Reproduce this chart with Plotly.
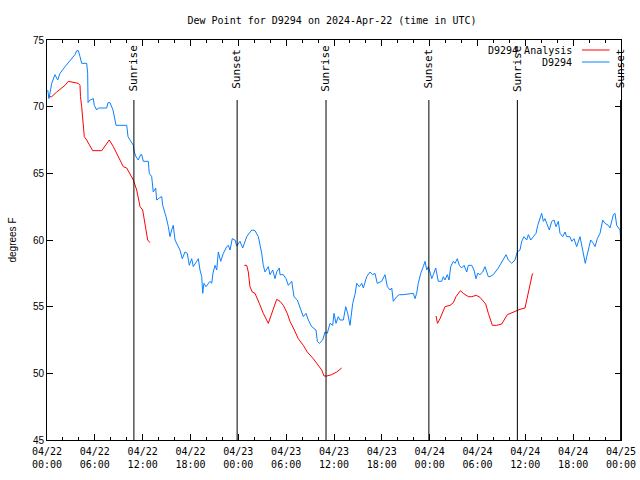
import pandas as pd
import plotly.graph_objects as go

BASE = pd.Timestamp("2024-04-22 00:00")

# Observations (hours since 04/22 00:00 UTC, degrees F)
obs_hours = [0.09, 0.25, 0.59, 1.0, 1.34, 1.63, 2.26, 2.89, 3.51, 3.73, 3.93, 4.14, 4.35, 4.98, 5.1, 5.15,
             5.39, 5.81, 5.93, 6.23, 6.44, 7.49, 7.65, 7.9, 8.28, 8.66, 10.0, 10.16, 10.41, 10.62, 10.83,
             10.95, 11.16, 11.45, 11.75, 11.88, 12.08, 12.71, 12.83, 13.13, 13.33, 13.63, 13.76, 14.09,
             14.39, 14.51, 14.71, 14.93, 15.22, 15.43, 15.64, 15.84, 16.06, 16.34, 16.68, 16.97, 17.31,
             17.6, 17.85, 18.15, 18.35, 18.78, 18.98, 19.19, 19.41, 19.53, 19.69, 19.94, 20.45, 20.66,
             20.82, 21.07, 21.29, 21.49, 21.79, 22.12, 22.54, 22.74, 22.96, 23.24, 23.58, 23.8, 24.21,
             24.55, 25.05, 25.68, 26.09, 26.51, 26.93, 27.13, 27.35, 27.76, 27.97, 28.31, 28.6, 28.81,
             29.14, 29.23, 29.64, 29.98, 30.27, 30.7, 30.98, 31.4, 31.74, 32.15, 32.49, 32.78, 33.2,
             33.74, 33.91, 34.16, 34.58, 34.87, 35.16, 35.5, 35.84, 36.0, 36.25, 36.54, 36.75, 37.17,
             37.47, 37.72, 38.01, 38.35, 38.63, 38.85, 39.17, 39.48, 39.68, 40.1, 40.52, 40.86, 41.14,
             41.43, 41.98, 42.4, 42.69, 43.03, 43.24, 43.44, 43.87, 44.19, 44.69, 45.53, 45.95, 46.16,
             46.37, 46.57, 46.88, 47.2, 47.42, 47.63, 47.83, 48.04, 48.26, 48.46, 48.76, 49.08, 49.51,
             49.71, 49.92, 50.21, 50.43, 50.64, 50.97, 51.18, 51.47, 51.72, 52.02, 52.31, 52.65, 52.85,
             53.27, 53.56, 53.81, 54.03, 54.31, 54.65, 54.94, 55.16, 55.36, 55.57, 55.98, 56.61, 57.24,
             57.58, 57.87, 58.29, 58.7, 58.99, 59.33, 59.55, 59.83, 60.17, 60.38, 60.68, 61.0, 61.34,
             61.55, 61.84, 62.05, 62.26, 62.47, 62.68, 63.01, 63.31, 63.6, 63.85, 64.14, 64.35, 64.69,
             64.98, 65.19, 65.6, 65.82, 66.11, 66.44, 66.86, 67.07, 67.36, 67.52, 67.7, 67.9, 68.2,
             68.53, 68.74, 69.03, 69.37, 69.71, 69.99, 70.41, 70.62, 71.04, 71.25, 71.46, 71.88, 71.96]
obs_values = [71.25, 70.6, 71.75, 72.4, 72.0, 72.5, 73.0, 73.5, 73.9, 74.2, 74.2, 73.75, 73.25, 73.25, 72.5, 70.3,
              70.5, 70.6, 70.1, 69.75, 69.9, 69.9, 70.3, 70.3, 69.75, 68.6, 68.6, 67.75, 67.5, 67.25, 67.1,
              66.6, 66.25, 66.0, 66.4, 66.4, 65.9, 65.9, 65.0, 64.75, 63.6, 63.9, 63.0, 63.15,
              63.25, 62.6, 62.25, 61.75, 61.0, 60.25, 60.75, 61.1, 60.0, 59.6, 59.25, 58.6, 59.1,
              59.0, 58.1, 58.6, 58.0, 58.4, 58.6, 57.75, 57.25, 56.0, 56.75, 56.5, 56.9, 56.75,
              57.5, 58.1, 57.75, 59.1, 58.4, 59.0, 59.5, 59.6, 59.25, 60.1, 60.0, 59.55, 59.9,
              59.4, 60.25, 60.75, 60.7, 60.25, 59.0, 58.1, 57.6, 58.0, 57.4, 57.75, 57.1, 57.6,
              57.9, 57.4, 57.4, 57.1, 56.6, 56.9, 55.75, 55.5, 55.0, 54.25, 54.5, 54.0, 53.5,
              53.25, 52.4, 52.25, 52.5, 53.1, 53.0, 53.75, 53.6, 54.5, 53.75, 54.25, 54.0, 54.0,
              55.0, 54.5, 53.6, 55.25, 55.9, 56.75, 56.5, 56.75, 56.4, 57.25, 57.6, 57.4, 57.5,
              56.75, 56.9, 57.4, 56.5, 56.25, 56.4, 55.4, 55.75, 55.9, 55.9, 56.0, 56.0, 55.6,
              56.0, 56.75, 57.5, 58.0, 58.4, 57.75, 58.0, 57.6, 57.1, 57.4, 57.9, 56.9, 56.9,
              57.25, 57.0, 57.4, 57.0, 58.0, 58.4, 58.25, 58.6, 58.1, 57.9, 58.1, 57.6, 58.1,
              58.1, 57.75, 57.1, 57.5, 57.4, 57.6, 58.0, 57.6, 57.25, 57.25, 57.4, 57.9, 58.5,
              58.9, 58.5, 58.25, 58.5, 59.1, 59.25, 59.9, 60.25, 60.0, 60.4, 60.0, 60.25, 60.5,
              61.1, 61.6, 62.0, 61.4, 61.6, 61.25, 60.75, 61.4, 61.5, 61.0, 61.4, 60.5, 60.25,
              60.6, 60.25, 60.25, 59.9, 60.1, 59.5, 60.25, 59.6, 58.75, 58.25, 58.75, 59.25, 60.0,
              59.75, 59.5, 60.1, 60.5, 61.5, 61.25, 61.1, 60.9, 61.9, 62.0, 61.1, 60.75, 60.1]

# Analysis (three separate segments)
ana1_hours = [0.16, 0.59, 1.22, 1.84, 2.26, 2.67, 3.3, 3.93, 4.14, 4.2, 4.35, 4.55, 4.68, 4.98, 5.39, 5.73,
              6.86, 7.28, 7.81, 8.32, 8.94, 9.57, 10.0, 10.41, 10.83, 11.25, 11.45, 11.67, 12.0, 12.17,
              12.42, 12.63, 12.92]
ana1_values = [70.75, 70.75, 71.1, 71.4, 71.6, 71.9, 71.8, 71.75, 71.6, 70.75, 70.0, 68.75, 67.75, 67.5, 67.0, 66.7,
               66.7, 67.1, 67.5, 67.0, 66.25, 65.5, 65.4, 64.9, 64.5, 63.75, 63.0, 62.5, 62.25, 61.6,
               60.75, 60.0, 59.8]
ana2_hours = [24.75, 25.05, 25.25, 25.46, 25.75, 26.09, 26.63, 27.13, 27.76, 28.31, 28.81, 29.23, 29.64,
              30.14, 30.48, 31.02, 31.52, 32.15, 32.65, 33.4, 34.03, 34.46, 34.75, 35.09, 35.71, 36.34, 36.97]
ana2_values = [58.1, 58.1, 57.6, 56.5, 56.1, 56.0, 55.25, 54.5, 53.75, 54.75, 55.55, 55.4, 55.1,
               54.5, 53.9, 53.25, 52.6, 52.1, 51.6, 51.1, 50.6, 50.25, 49.8, 49.8, 49.9, 50.1, 50.4]
ana3_hours = [48.8, 48.98, 49.3, 49.64, 49.92, 50.55, 50.97, 51.3, 51.85, 52.22, 52.85, 53.27, 53.85,
              54.31, 55.03, 55.36, 55.86, 56.41, 57.04, 57.74, 58.29, 58.92, 59.33, 59.96, 60.25, 60.59,
              60.88, 61.0]
ana3_values = [54.3, 53.75, 54.1, 54.6, 55.0, 55.1, 55.3, 55.75, 56.2, 56.0, 55.75, 55.75, 55.85,
               55.7, 55.2, 54.5, 53.6, 53.6, 53.7, 54.4, 54.55, 54.75, 54.8, 54.9, 55.75, 56.75,
               57.45, 57.5]

sun_labels = ["Sunrise", "Sunset", "Sunrise", "Sunset", "Sunrise", "Sunset"]
sun_hours = [10.9, 23.85, 35.0, 47.9, 59.0, 71.95]

tick_hours = list(range(0, 73, 6))
tick_labels = [f"{(BASE + pd.Timedelta(hours=h)).strftime('%m/%d')}<br>{(BASE + pd.Timedelta(hours=h)).strftime('%H:%M')}"
               for h in tick_hours]

RED = "#ff0000"
BLUE = "#0a80ff"
FONT = "DejaVu Sans Mono"


def to_time(hours):
    return [BASE + pd.Timedelta(hours=h) for h in hours]


ana_x, ana_y = [], []
for hs, vs in [(ana1_hours, ana1_values), (ana2_hours, ana2_values), (ana3_hours, ana3_values)]:
    if ana_x:
        ana_x.append(None)
        ana_y.append(None)
    ana_x += to_time(hs)
    ana_y += vs

fig = go.Figure()
fig.add_trace(go.Scatter(x=ana_x, y=ana_y, mode="lines", line=dict(color=RED, width=1),
                         name="D9294 Analysis", connectgaps=False))
fig.add_trace(go.Scatter(x=to_time(obs_hours), y=obs_values, mode="lines",
                         line=dict(color=BLUE, width=1), name="D9294"))

shapes = []
annotations = []
for lab, h in zip(sun_labels, sun_hours):
    t = BASE + pd.Timedelta(hours=h)
    shapes.append(dict(type="line", xref="x", yref="y", x0=t, x1=t, y0=45, y1=70.5,
                       line=dict(color="black", width=1)))
    annotations.append(dict(x=t, y=72.85, xref="x", yref="y", text=lab, textangle=-90,
                            showarrow=False, xanchor="center", yanchor="middle",
                            font=dict(family=FONT, size=11, color="black")))

# legend drawn gnuplot-style (text then sample line)
leg_items = [("D9294 Analysis", RED, 0.975), ("D9294", BLUE, 0.945)]
for name, col, yy in leg_items:
    annotations.append(dict(x=0.918, y=yy, xref="paper", yref="paper", text=name, showarrow=False,
                            xanchor="right", yanchor="middle",
                            font=dict(family=FONT, size=10, color="black")))
    shapes.append(dict(type="line", xref="paper", yref="paper", x0=0.932, x1=0.98, y0=yy, y1=yy,
                       line=dict(color=col, width=1)))

fig.update_layout(
    width=640, height=480,
    margin=dict(l=47, r=19, t=40, b=40, autoexpand=False),
    paper_bgcolor="white", plot_bgcolor="white",
    showlegend=False,
    title=dict(text="Dew Point for D9294 on 2024-Apr-22 (time in UTC)", x=332 / 640, xanchor="center",
               y=1 - 20 / 480, yanchor="middle", font=dict(family=FONT, size=10, color="black")),
    shapes=shapes, annotations=annotations,
    font=dict(family=FONT, size=10, color="black"),
)
fig.update_xaxes(
    range=[BASE, BASE + pd.Timedelta(hours=72)],
    tickvals=to_time(tick_hours), ticktext=tick_labels,
    ticks="inside", ticklen=6, tickcolor="black", tickwidth=1,
    minor=dict(dtick=2 * 3600000, ticks="inside", ticklen=3, tickcolor="black", tickwidth=1),
    showline=True, linecolor="black", linewidth=1, mirror="allticks",
    showgrid=False, zeroline=False, automargin=False, ticklabelstandoff=2,
    tickfont=dict(family=FONT, size=10, color="black"),
)
fig.update_yaxes(
    range=[45, 75], tickvals=[45, 50, 55, 60, 65, 70, 75],
    ticks="inside", ticklen=6, tickcolor="black", tickwidth=1,
    showline=True, linecolor="black", linewidth=1, mirror="allticks",
    showgrid=False, zeroline=False, automargin=False,
    title=dict(text="degrees F", font=dict(family="Liberation Sans", size=10, color="black"), standoff=14),
    tickfont=dict(family="Liberation Sans", size=10, color="black"),
)

fig.write_html("out.html")
